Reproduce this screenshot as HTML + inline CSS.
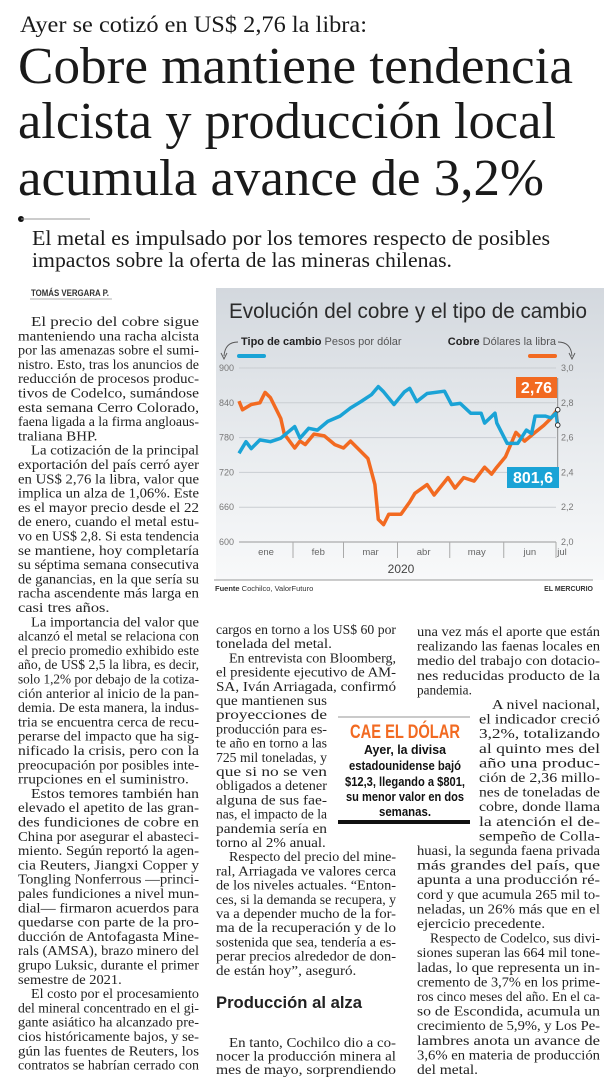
<!DOCTYPE html>
<html><head><meta charset="utf-8"><style>
html,body{margin:0;padding:0;background:#fff;}
svg{display:block;}
</style></head><body>
<svg id="page" xmlns="http://www.w3.org/2000/svg" width="614" height="1085" viewBox="0 0 614 1085">
<defs>
<linearGradient id="bg" x1="0" y1="0" x2="0" y2="1">
<stop offset="0" stop-color="#d3d8de"/><stop offset="0.55" stop-color="#e9ecef"/><stop offset="1" stop-color="#f8f9fa"/>
</linearGradient>
</defs>
<rect width="614" height="1085" fill="#fff"/>
<g font-family="'Liberation Serif', serif" fill="#1a1a1a">
<text x="20" y="32" font-size="23" textLength="347" lengthAdjust="spacingAndGlyphs">Ayer se cotizó en US$ 2,76 la libra:</text>
<text x="18" y="83" font-size="52" textLength="555" lengthAdjust="spacingAndGlyphs">Cobre mantiene tendencia</text>
<text x="18" y="138" font-size="52" textLength="538" lengthAdjust="spacingAndGlyphs">alcista y producción local</text>
<text x="18" y="195" font-size="52" textLength="526" lengthAdjust="spacingAndGlyphs">acumula avance de 3,2%</text>
<circle cx="21" cy="219" r="3" fill="#111"/>
<line x1="21" y1="219" x2="90" y2="219" stroke="#999" stroke-width="1"/>
<text x="32" y="245" font-size="21" textLength="518" lengthAdjust="spacingAndGlyphs">El metal es impulsado por los temores respecto de posibles</text>
<text x="32" y="267" font-size="21" textLength="420" lengthAdjust="spacingAndGlyphs">impactos sobre la oferta de las mineras chilenas.</text>
<text x="31" y="296" font-family="'Liberation Sans', sans-serif" font-size="9" font-weight="bold" fill="#333" textLength="78" lengthAdjust="spacingAndGlyphs">TOMÁS VERGARA P.</text>
<line x1="30" y1="299" x2="112" y2="299" stroke="#999" stroke-width="0.8"/>
</g>
<g id="chart"></g>
<g id="body" font-family="'Liberation Serif', serif" font-size="13.5" fill="#222"></g>
<g font-family="'Liberation Sans', sans-serif" font-weight="bold" text-anchor="middle">
<line x1="338" y1="717" x2="470" y2="717" stroke="#aaa" stroke-width="1.2"/>
<text x="405" y="738" font-size="19" fill="#f26a21" textLength="110" lengthAdjust="spacingAndGlyphs">CAE EL DÓLAR</text>
<text x="405" y="754" font-size="13" fill="#111" textLength="82" lengthAdjust="spacingAndGlyphs">Ayer, la divisa</text>
<text x="405" y="770" font-size="13" fill="#111" textLength="112" lengthAdjust="spacingAndGlyphs">estadounidense bajó</text>
<text x="405" y="786" font-size="13" fill="#111" textLength="120" lengthAdjust="spacingAndGlyphs">$12,3, llegando a $801,</text>
<text x="405" y="801" font-size="13" fill="#111" textLength="118" lengthAdjust="spacingAndGlyphs">su menor valor en dos</text>
<text x="405" y="816" font-size="13" fill="#111" textLength="52" lengthAdjust="spacingAndGlyphs">semanas.</text>
<rect x="338" y="820" width="132" height="4" fill="#111"/>
</g>
<text x="216" y="1008" font-family="'Liberation Sans', sans-serif" font-size="17" font-weight="bold" fill="#222" textLength="146" lengthAdjust="spacingAndGlyphs">Producción al alza</text>
</svg>
<script>
const fxDays=[0,4,7,12,18,24,32,35,40,45,51,58,64,70,76,80,83,89,95,98,102,108,118,122,127,133,139,141,147,148,154,160,165,168,170,176,179,182,183];
const fxValues=[753,773,761,776,773,779,799,779,796,793,808,817,831,842,854,868,859,837,859,865,842,856,860,837,839,822,822,805,822,805,770,770,793,787,817,817,814,822,801.6];
const cuDays=[0,2,7,12,15,18,24,26,32,35,38,43,49,55,60,64,70,74,78,80,83,86,93,98,101,108,112,120,124,129,135,141,145,148,153,159,164,170,175,179,182,183];
const cuValues=[2.81,2.76,2.79,2.80,2.86,2.83,2.71,2.62,2.54,2.58,2.56,2.62,2.61,2.56,2.54,2.58,2.52,2.48,2.33,2.13,2.10,2.16,2.16,2.23,2.28,2.33,2.27,2.37,2.31,2.37,2.35,2.43,2.39,2.43,2.49,2.63,2.58,2.63,2.67,2.71,2.75,2.76];
const leftTicks=[600,660,720,780,840,900];
const rightTicks=["2,0","2,2","2,4","2,6","2,8","3,0"];
const rightTickValues=[2.0,2.2,2.4,2.6,2.8,3.0];
const months=["ene","feb","mar","abr","may","jun","jul"];
const monthStartDays=[0,31,60,91,121,152,182];
const lastCu="2,76";
const lastFx="801,6";

const NS='http://www.w3.org/2000/svg';
function mk(tag,attrs,parent){const e=document.createElementNS(NS,tag);for(const k in attrs)e.setAttribute(k,attrs[k]);parent.appendChild(e);return e;}
const X0=239,X1=556,Y0=542,Y1=368;
function xS(d){return X0+d/182*(X1-X0);}
function yL(v){return Y0-(v-600)/300*(Y0-Y1);}
function yR(v){return Y0-(v-2.0)/1.0*(Y0-Y1);}
const ch=document.getElementById('chart');
let e;
e=mk('rect',{x:216,y:288,width:388,height:292,fill:'url(#bg)'},ch);


e=mk('text',{x:229,y:318,'font-family':"'Liberation Sans', sans-serif",'font-size':21,fill:'#2b2b2b',textLength:358,lengthAdjust:'spacingAndGlyphs'},ch);
e.textContent='Evolución del cobre y el tipo de cambio';


// legends
e=mk('text',{x:241,y:345,'font-family':"'Liberation Sans', sans-serif",'font-size':11,fill:'#222'},ch);
e.innerHTML='<tspan font-weight="bold">Tipo de cambio</tspan><tspan fill="#555"> Pesos por dólar</tspan>';


e=mk('line',{x1:239,y1:356,x2:264,y2:356,stroke:'#1aa3d6','stroke-width':4,'stroke-linecap':'round'},ch);


e=mk('text',{x:556,y:345,'text-anchor':'end','font-family':"'Liberation Sans', sans-serif",'font-size':11,fill:'#222'},ch);
e.innerHTML='<tspan font-weight="bold">Cobre</tspan><tspan fill="#555"> Dólares la libra</tspan>';


e=mk('line',{x1:530,y1:356,x2:555,y2:356,stroke:'#f26a21','stroke-width':4,'stroke-linecap':'round'},ch);


e=mk('path',{d:'M238 342 Q225 342 224 356 M221 353 L224 359 L227 353',fill:'none',stroke:'#555','stroke-width':0.9},ch);


e=mk('path',{d:'M558 342 Q571 342 572 356 M569 353 L572 359 L575 353',fill:'none',stroke:'#555','stroke-width':0.9},ch);


// grid + ticks
leftTicks.forEach((v,i)=>{
  const y=yL(v);
  const g=mk('line',{x1:X0,y1:y,x2:X1,y2:y,stroke:i===0?'#999':'#c9cdd2','stroke-width':1},ch);
  
  
  const t=mk('text',{x:219,y:y+3,'font-family':"'Liberation Sans', sans-serif",'font-size':9,fill:'#777'},ch);
  t.textContent=v;
  
  
});
rightTicks.forEach((s,i)=>{
  const t=mk('text',{x:561,y:yR(rightTickValues[i])+3,'font-family':"'Liberation Sans', sans-serif",'font-size':9,fill:'#777'},ch);
  t.textContent=s;
  
  
});
months.forEach((m,i)=>{
  const xs=xS(monthStartDays[i]);
  if(i>0){const l=mk('line',{x1:xs,y1:Y0,x2:xs,y2:558,stroke:'#aaa','stroke-width':1},ch);
  
  }
  const xe=i<months.length-1?xS(monthStartDays[i+1]):xs+10;
  const t=mk('text',{x:i<months.length-1?(xs+xe)/2:xs+6,y:555,'text-anchor':'middle','font-family':"'Liberation Sans', sans-serif",'font-size':9.5,fill:'#666'},ch);
  t.textContent=m;
  
  
});
e=mk('text',{x:401,y:573,'text-anchor':'middle','font-family':"'Liberation Sans', sans-serif",'font-size':12,fill:'#444'},ch);
e.textContent='2020';


// series
function pts(ds,vs,f){return ds.map((d,i)=>xS(d).toFixed(1)+','+f(vs[i]).toFixed(1)).join(' ');}
e=mk('polyline',{points:pts(cuDays,cuValues,yR),fill:'none',stroke:'#f26a21','stroke-width':3.5,'stroke-linejoin':'round'},ch);


e=mk('polyline',{points:pts(fxDays,fxValues,yL),fill:'none',stroke:'#1aa3d6','stroke-width':3.5,'stroke-linejoin':'round'},ch);


const lx=xS(cuDays[cuDays.length-1]);
const cuY=yR(cuValues[cuValues.length-1]), fxY=yL(fxValues[fxValues.length-1]);
e=mk('line',{x1:lx,y1:378,x2:lx,y2:470,stroke:'#777','stroke-width':0.8},ch);


e=mk('circle',{cx:lx,cy:cuY,r:2.3,fill:'#fff',stroke:'#222','stroke-width':0.9},ch);


e=mk('circle',{cx:lx,cy:fxY,r:2.3,fill:'#fff',stroke:'#222','stroke-width':0.9},ch);


e=mk('rect',{x:516,y:377,width:41,height:21,fill:'#f26a21'},ch);


e=mk('text',{x:536.5,y:393,'text-anchor':'middle','font-family':"'Liberation Sans', sans-serif",'font-size':16,'font-weight':'bold',fill:'#fff'},ch);
e.textContent=lastCu;


e=mk('rect',{x:507,y:467,width:52,height:21,fill:'#1aa3d6'},ch);


e=mk('text',{x:533,y:483,'text-anchor':'middle','font-family':"'Liberation Sans', sans-serif",'font-size':16,'font-weight':'bold',fill:'#fff'},ch);
e.textContent=lastFx;


e=mk('line',{x1:214,y1:580,x2:593,y2:580,stroke:'#999','stroke-width':1},ch);


e=mk('text',{x:215,y:591,'font-family':"'Liberation Sans', sans-serif",'font-size':7.5,fill:'#333'},ch);
e.innerHTML='<tspan font-weight="bold">Fuente</tspan> Cochilco, ValorFuturo';


e=mk('text',{x:593,y:591,'text-anchor':'end','font-family':"'Liberation Sans', sans-serif",'font-size':7,'font-weight':'bold',fill:'#333'},ch);
e.textContent='EL MERCURIO';



// body text
const body=document.getElementById('body');
function seg(lines,x,w,y0,lh){
  lines.forEach((ln,i)=>{
    let s=ln,ind=0,last=false;
    if(s[0]==='¶'){s=s.slice(1);ind=13;}
    if(s[s.length-1]==='$'){s=s.slice(0,-1);last=true;}
    let len=w-ind;
    if(last)len=Math.min(len,s.length*6.1);
    const t=mk('text',{x:x+ind,y:(y0+i*lh+4).toFixed(1)},body);
    t.setAttribute('textLength',len.toFixed(1));
    t.setAttribute('lengthAdjust','spacingAndGlyphs');
    t.textContent=s;
    
    
  });
}
const col1=["¶El precio del cobre sigue","manteniendo una racha alcista","por las amenazas sobre el sumi-","nistro. Esto, tras los anuncios de","reducción de procesos produc-","tivos de Codelco, sumándose","esta semana Cerro Colorado,","faena ligada a la firma angloaus-","traliana BHP.$","¶La cotización de la principal","exportación del país cerró ayer","en US$ 2,76 la libra, valor que","implica un alza de 1,06%. Este","es el mayor precio desde el 22","de enero, cuando el metal estu-","vo en US$ 2,8. Si esta tendencia","se mantiene, hoy completaría","su séptima semana consecutiva","de ganancias, en la que sería su","racha ascendente más larga en","casi tres años.$",
"¶La importancia del valor que","alcanzó el metal se relaciona con","el precio promedio exhibido este","año, de US$ 2,5 la libra, es decir,","solo 1,2% por debajo de la cotiza-","ción anterior al inicio de la pan-","demia. De esta manera, la indus-","tria se encuentra cerca de recu-","perarse del impacto que ha sig-","nificado la crisis, pero con la","preocupación por posibles inte-","rrupciones en el suministro.$","¶Estos temores también han","elevado el apetito de las gran-","des fundiciones de cobre en","China por asegurar el abasteci-","miento. Según reportó la agen-","cia Reuters, Jiangxi Copper y","Tongling Nonferrous —princi-","pales fundiciones a nivel mun-","dial— firmaron acuerdos para","quedarse con parte de la pro-","ducción de Antofagasta Mine-","rals (AMSA), brazo minero del","grupo Luksic, durante el primer","semestre de 2021.$","¶El costo por el procesamiento","del mineral concentrado en el gi-","gante asiático ha alcanzado pre-","cios históricamente bajos, y se-","gún las fuentes de Reuters, los","contratos se habrían cerrado con"];
seg(col1,18,181,322,14.3);
seg(["cargos en torno a los US$ 60 por","tonelada del metal.$","¶En entrevista con Bloomberg,","el presidente ejecutivo de AM-","SA, Iván Arriagada, confirmó"],216,180,630,14.2);
seg(["que mantienen sus","proyecciones de","producción para es-","te año en torno a las","725 mil toneladas, y","que si no se ven","obligados a detener","alguna de sus fae-","nas, el impacto de la","pandemia sería en"],216,111,630+5*14.2,14.2);
seg(["torno al 2% anual.$","¶Respecto del precio del mine-","ral, Arriagada ve valores cerca","de los niveles actuales. “Enton-","ces, si la demanda se recupera, y","va a depender mucho de la for-","ma de la recuperación y de lo","sostenida que sea, tendería a es-","perar precios alrededor de don-","de están hoy”, aseguró.$"],216,180,630+15*14.2,14.2);
seg(["¶En tanto, Cochilco dio a co-","nocer la producción minera al","mes de mayo, sorprendiendo"],216,180,1043,13.6);
seg(["una vez más el aporte que están","realizando las faenas locales en","medio del trabajo con dotacio-","nes reducidas producto de la","pandemia.$"],417,183,632,14.6);
seg(["¶A nivel nacional,","el indicador creció","3,2%, totalizando","al quinto mes del","año una produc-","ción de 2,36 millo-","nes de toneladas de","cobre, donde llama","la atención el de-","sempeño de Colla-"],479,121,632+5*14.6,14.6);
seg(["huasi, la segunda faena privada","más grandes del país, que","apunta a una producción ré-","cord y que acumula 265 mil to-","neladas, un 26% más que en el","ejercicio precedente.$","¶Respecto de Codelco, sus divi-","siones superan las 664 mil tone-","ladas, lo que representa un in-","cremento de 3,7% en los prime-","ros cinco meses del año. En el ca-","so de Escondida, acumula un","crecimiento de 5,9%, y Los Pe-","lambres anota un avance de","3,6% en materia de producción","del metal.$"],417,183,632+15*14.6,14.6);
</script>
</body></html>
